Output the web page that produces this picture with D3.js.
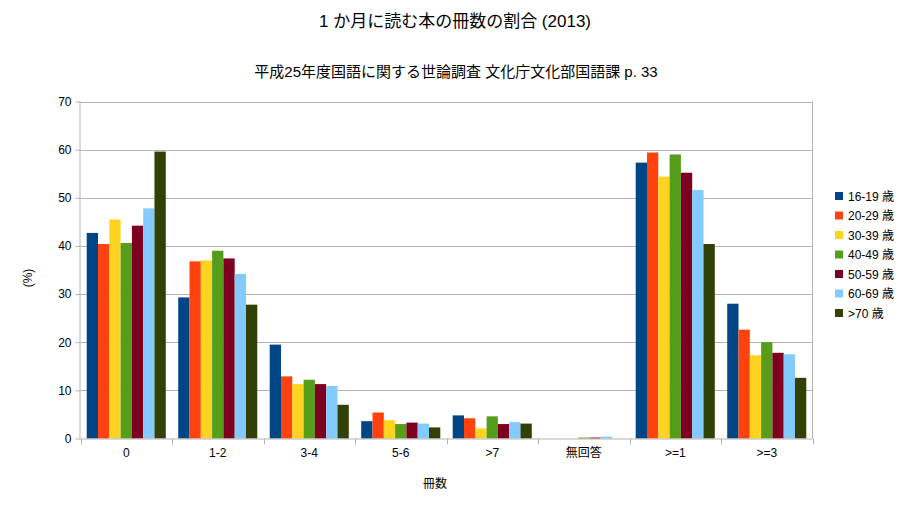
<!DOCTYPE html>
<html><head><meta charset="utf-8">
<script src="https://cdn.jsdelivr.net/npm/d3@7"></script>
<style>
body{margin:0;background:#fff;}
text{font-family:"Liberation Sans","Noto Sans CJK JP",sans-serif;fill:#000;}
</style></head>
<body><svg id="c" width="907" height="510"></svg>
<script>
const categories = ["0","1-2","3-4","5-6",">7","無回答",">=1",">=3"];
const seriesNames = ["16-19 歳","20-29 歳","30-39 歳","40-49 歳","50-59 歳","60-69 歳",">70 歳"];
const s16_19 = [42.7, 29.3, 19.5, 3.6, 4.8, 0.0, 57.3, 28.0];
const s20_29 = [40.4, 36.8, 12.9, 5.4, 4.2, 0.0, 59.4, 22.6];
const s30_39 = [45.5, 37.0, 11.3, 3.8, 2.1, 0.0, 54.4, 17.3];
const s40_49 = [40.6, 39.0, 12.2, 3.0, 4.6, 0.2, 59.0, 20.0];
const s50_59 = [44.2, 37.4, 11.3, 3.3, 3.0, 0.2, 55.2, 17.8];
const s60_69 = [47.8, 34.2, 10.9, 3.1, 3.4, 0.4, 51.6, 17.5];
const s70 = [59.6, 27.8, 7.0, 2.3, 3.1, 0.0, 40.4, 12.6];
const yTicks = [0,10,20,30,40,50,60,70];
const colors = ["#004586","#ff420e","#ffd320","#579d1c","#7e0021","#83caff","#314004"];
const title = "1 か月に読む本の冊数の割合 (2013)";
const subtitle = "平成25年度国語に関する世論調査 文化庁文化部国語課 p. 33";
const xTitle = "冊数";
const yTitle = "(%)";

const series = [s16_19,s20_29,s30_39,s40_49,s50_59,s60_69,s70];
const svg = d3.select("#c");
const L=80.5, R=812.5, T=101.5, B=438.5;
const x0 = d3.scaleBand().domain(categories).range([L,R]).paddingInner(0).paddingOuter(0);
const x1 = d3.scaleBand().domain(d3.range(series.length)).range([0,x0.bandwidth()]).paddingOuter(0.55).paddingInner(0);
const y = d3.scaleLinear().domain([0,70]).range([B,T]);

// gridlines
svg.append("g").selectAll("line").data(yTicks.filter(d=>d>0)).join("line")
  .attr("x1",L).attr("x2",R).attr("y1",d=>Math.round(y(d))+0.5).attr("y2",d=>Math.round(y(d))+0.5)
  .attr("stroke","#b3b3b3").attr("stroke-width",1);
svg.append("line").attr("x1",R).attr("x2",R).attr("y1",T).attr("y2",B).attr("stroke","#b3b3b3");

// bars
const g = svg.append("g");
series.forEach((s,i)=>{
  g.append("g").selectAll("rect").data(s).join("rect")
   .attr("x",(d,j)=>x0(categories[j])+x1(i))
   .attr("width",x1.bandwidth())
   .attr("y",d=>y(d)).attr("height",d=>B-y(d))
   .attr("fill",colors[i]);
});

// y axis
const ya = svg.append("g").attr("transform",`translate(${L},0)`)
  .call(d3.axisLeft(y).tickValues(yTicks).tickSize(5).tickPadding(4));
ya.select(".domain").attr("stroke","#b3b3b3").attr("d",`M-0.5,${T}V${B}`);
ya.selectAll(".tick line").attr("stroke","#b3b3b3");
ya.selectAll(".tick text").attr("font-size","12px").attr("font-family","Liberation Sans").attr("fill","#000");

// x axis
const xa = svg.append("g").attr("transform",`translate(0,${B})`)
  .call(d3.axisBottom(x0).tickSize(0).tickPadding(10));
xa.select(".domain").attr("stroke","#b3b3b3").attr("d",`M${L},0.5H${R}`);
xa.selectAll(".tick text").attr("font-size","12px").attr("font-family","Liberation Sans, Noto Sans CJK JP").attr("fill","#000");
svg.append("g").selectAll("line").data(categories.concat(["_end"])).join("line")
  .attr("x1",(d,j)=>Math.round(L+j*x0.step())+0.5).attr("x2",(d,j)=>Math.round(L+j*x0.step())+0.5)
  .attr("y1",B).attr("y2",B+6).attr("stroke","#b3b3b3");

// titles
svg.append("text").attr("x",455).attr("y",27).attr("text-anchor","middle").attr("font-size","17px").text(title);
svg.append("text").attr("x",456).attr("y",77).attr("text-anchor","middle").attr("font-size","15px").text(subtitle);
svg.append("text").attr("x",435).attr("y",488).attr("text-anchor","middle").attr("font-size","12px").text(xTitle);
svg.append("text").attr("transform","translate(32,278) rotate(-90)").attr("text-anchor","middle").attr("font-size","12px").text(yTitle);

// legend
const lg = svg.append("g").attr("transform","translate(835,196)");
seriesNames.forEach((n,i)=>{
  lg.append("rect").attr("x",0).attr("y",i*19.5-4).attr("width",8).attr("height",8).attr("fill",colors[i]);
  lg.append("text").attr("x",13).attr("y",i*19.5+4.5).attr("font-size","12px").text(n);
});
</script></body></html>
